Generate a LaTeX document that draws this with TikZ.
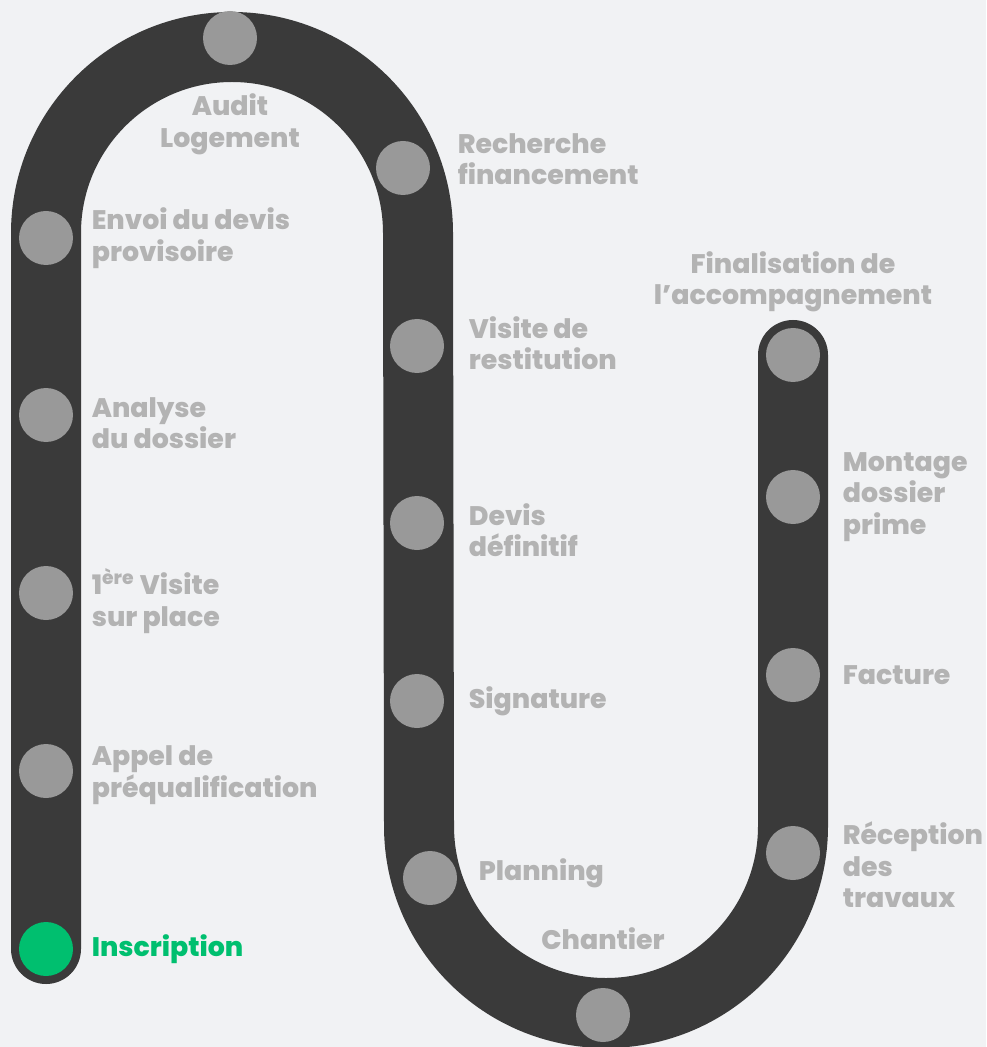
\documentclass[tikz,border=0pt]{standalone}
\usepackage{fontspec}
\setmainfont{Poppins}[BoldFont={Poppins ExtraBold}]
\usetikzlibrary{positioning,backgrounds}
\definecolor{paper}{HTML}{F1F2F4}
\definecolor{roadgray}{HTML}{3A3A3A}
\definecolor{stopgray}{HTML}{999999}
\definecolor{labelgray}{HTML}{B3B3B3}
\definecolor{donegreen}{HTML}{00BF6F}

\begin{document}
\begin{tikzpicture}[x=0.5pt,y=-0.5pt,
  milestone/.style={circle,fill=stopgray,inner sep=0pt,minimum size=27pt},
  steptext/.style={text=labelgray,font=\bfseries\fontsize{13.4}{15.75}\selectfont,align=left,inner sep=0pt},
  road/.style={draw=roadgray,line width=35pt,line cap=round}]
\useasboundingbox (0,0) rectangle (986,1047);
  \node[milestone,fill=donegreen] (inscr) at (46,949)  {};
  \node[milestone] (appel)     at (46,771)   {};
  \node[milestone] (visite)    at (46,593)   {};
  \node[milestone] (analyse)   at (46,415)   {};
  \node[milestone] (envoi)     at (46,238)   {};
  \node[milestone] (audit)     at (230,38)   {};
  \node[milestone] (recherche) at (403,168)  {};
  \node[milestone] (restit)    at (417,346)  {};
  \node[milestone] (devis)     at (417,523)  {};
  \node[milestone] (signat)    at (417,701)  {};
  \node[milestone] (planning)  at (430,878)  {};
  \node[milestone] (chantier)  at (603,1015) {};
  \node[milestone] (reception) at (793,853)  {};
  \node[milestone] (facture)   at (793,675)  {};
  \node[milestone] (montage)   at (793,497)  {};
  \node[milestone] (final)     at (793,355)  {};
  \coordinate (topleft) at (46,233);
  \coordinate (midbottom) at (419,826);
\begin{pgfonlayer}{background}
  \fill[paper] (0,0) rectangle (986,1047);
  \draw[road] (inscr.center) -- (topleft) arc[start angle=180,end angle=0,radius=93pt]
    -- (midbottom) arc[start angle=180,end angle=360,radius=93.5pt] -- (final.center);
\end{pgfonlayer}
  \node[steptext,text=donegreen,right=9pt of inscr] (inscr-t) {Inscription};
  \node[steptext,right=9pt of appel,yshift=-2pt]   (appel-t)   {Appel de\\préqualification};
  \node[steptext,right=9pt of visite,yshift=-4pt]  (visite-t)  {1\textsuperscript{ère} Visite\\sur place};
  \node[steptext,right=9pt of analyse,yshift=-4pt] (analyse-t) {Analyse\\du dossier};
  \node[steptext,right=9pt of envoi]   (envoi-t)   {Envoi du devis\\provisoire};
  \node[steptext,align=center,below=14pt of audit] (audit-t) {Audit\\Logement};
  \node[steptext,right=13.5pt of recherche,yshift=4.5pt] (recherche-t) {Recherche\\financement};
  \node[steptext,right=12pt of restit,yshift=1.5pt] (restit-t) {Visite de\\restitution};
  \node[steptext,right=12pt of devis,yshift=-3.5pt]  (devis-t)  {Devis\\définitif};
  \node[steptext,right=12pt of signat] (signat-t) {Signature};
  \node[steptext,right=10.5pt of planning,yshift=2.5pt] (planning-t) {Planning};
  \node[steptext,above=19pt of chantier] (chantier-t) {Chantier};
  \node[steptext,right=11pt of reception,yshift=-6pt] (reception-t) {Réception\\des\\travaux};
  \node[steptext,right=11pt of facture] (facture-t) {Facture};
  \node[steptext,right=11pt of montage] (montage-t) {Montage\\dossier\\prime};
  \node[steptext,align=center,above=7.5pt of final] (final-t) {Finalisation de\\l’accompagnement};
\end{tikzpicture}
\end{document}
